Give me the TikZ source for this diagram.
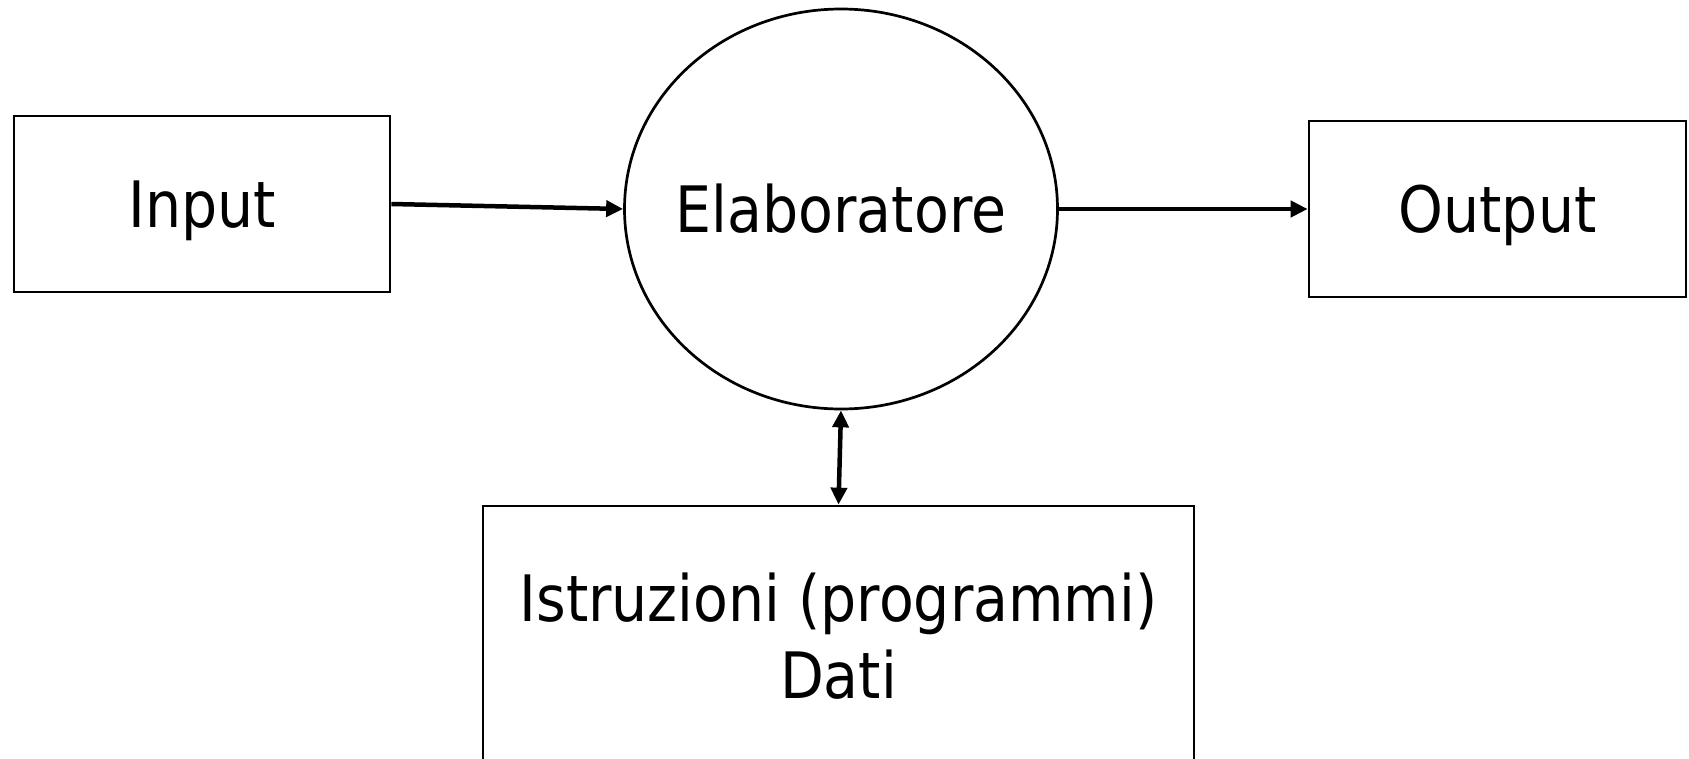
\documentclass[tikz,border=0pt]{standalone}
\usepackage{fontspec}
\setmainfont[FakeStretch=0.89]{DejaVu Sans}
\usetikzlibrary{shapes.geometric,arrows.meta}
\begin{document}
\begin{tikzpicture}[x=1pt,y=-1pt,
  txt/.style={font=\fontsize{64}{77}\selectfont},
  one/.style={text height=46.7pt, text depth=0pt},
  box/.style={draw, line width=2.7pt, rectangle, inner sep=0pt, txt},
  conn/.style={line width=4.5pt, -{Triangle[length=17pt,width=16pt]}},
  dconn/.style={line width=4.5pt, {Triangle[length=17pt,width=16pt]}-{Triangle[length=17pt,width=16pt]}}]
\path[use as bounding box, clip] (0,0) rectangle (1689,758);
\node[box, one, minimum width=376pt, minimum height=176pt] (in) at (202,204) {Input};
\node[box, one, minimum width=377pt, minimum height=176pt] (out) at (1497.5,209) {Output};
\node[draw, ellipse, line width=2.7pt, inner xsep=-20pt, inner ysep=0pt, minimum width=433pt, minimum height=400pt, txt, one] (cpu) at (841,209) {Elaboratore};
\node[box, align=center, minimum width=711pt, minimum height=260pt] (mem) at (838.5,636) {Istruzioni (programmi)\\Dati};
\draw[conn] (in.east) -- (cpu.west);
\draw[conn] (cpu.east) -- (out.west);
\draw[dconn] (cpu.south) -- (mem.north);
\end{tikzpicture}
\end{document}
